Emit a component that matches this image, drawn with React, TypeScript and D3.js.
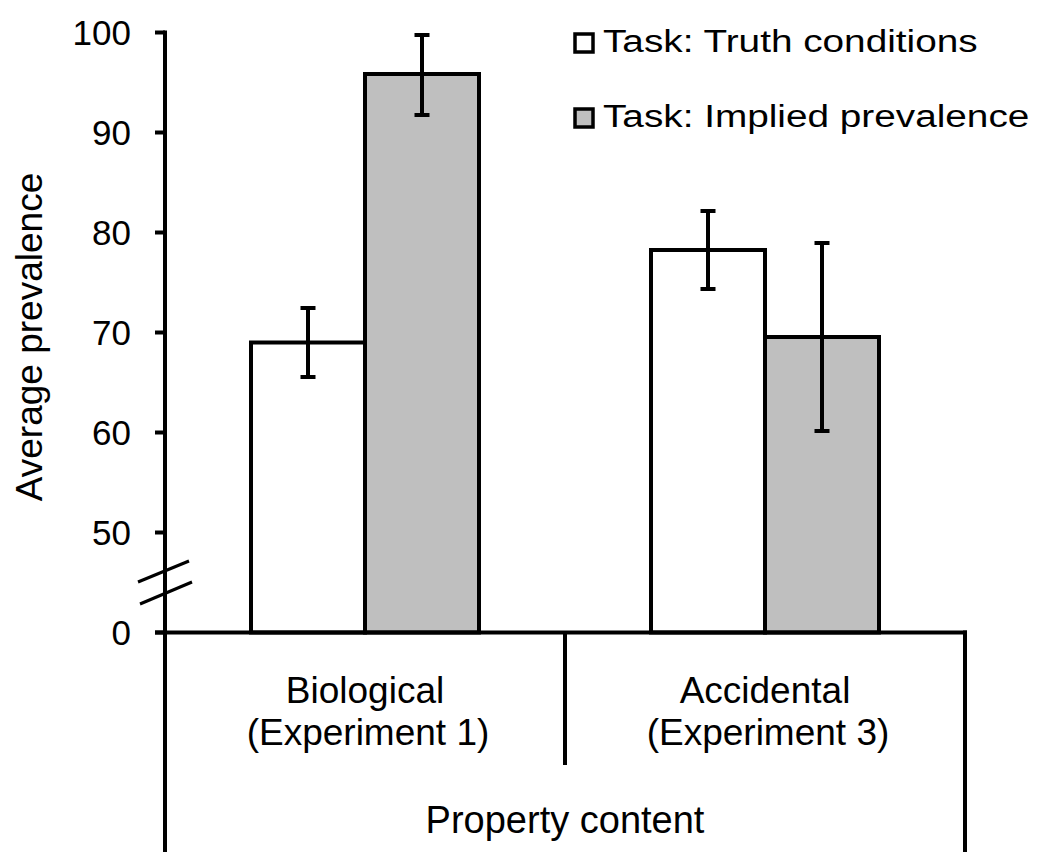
import React from "react";
import * as d3 from "d3";

const categories = ["Biological|(Experiment 1)", "Accidental|(Experiment 3)"];
const seriesNames = ["Task: Truth conditions", "Task: Implied prevalence"];
const seriesColors = ["#ffffff", "#bfbfbf"];
const truthValues = [69.0, 78.25];
const truthLow = [65.55, 74.35];
const truthHigh = [72.45, 82.15];
const impliedValues = [95.85, 69.55];
const impliedLow = [91.75, 60.15];
const impliedHigh = [99.75, 78.95];
const tickValues = [40, 50, 60, 70, 80, 90, 100];
const tickLabels = ["0", "50", "60", "70", "80", "90", "100"];
const yTitle = "Average prevalence";
const xTitle = "Property content";

const FONT = "'Liberation Sans', Arial, Helvetica, sans-serif";

export default function App() {
  const W = 1050, H = 863;
  const y = d3.scaleLinear().domain([40, 100]).range([632.5, 32.5]);
  const x0 = d3.scaleBand<string>().domain(categories).range([165, 965]).paddingInner(0).paddingOuter(0);
  const x1 = d3.scaleBand<string>().domain(seriesNames).range([0, 228]);
  const off = (x0.bandwidth() - 228) / 2;

  const series = [
    { name: seriesNames[0], vals: truthValues, lo: truthLow, hi: truthHigh, color: seriesColors[0] },
    { name: seriesNames[1], vals: impliedValues, lo: impliedLow, hi: impliedHigh, color: seriesColors[1] },
  ];
  const base = y(40);
  const sw = 4;

  return (
    <svg width={W} height={H} style={{ position: "absolute", left: 0, top: 0, background: "#fff" }}>
      <rect x={0} y={0} width={W} height={H} fill="#fff" />
      {/* bars */}
      {series.map((s, si) =>
        categories.map((c, ci) => {
          const bx = (x0(c) as number) + off + (x1(s.name) as number);
          const bw = x1.bandwidth();
          const top = y(s.vals[ci]);
          return (
            <rect key={`b${si}-${ci}`} x={bx} y={top} width={bw} height={base - top}
              fill={s.color} stroke="#000" strokeWidth={sw} strokeLinejoin="miter" />
          );
        })
      )}
      {/* error bars */}
      {series.map((s, si) =>
        categories.map((c, ci) => {
          const cx = (x0(c) as number) + off + (x1(s.name) as number) + x1.bandwidth() / 2;
          const yl = y(s.lo[ci]);
          const yh = y(s.hi[ci]);
          return (
            <g key={`e${si}-${ci}`} stroke="#000" strokeWidth={4}>
              <line x1={cx} x2={cx} y1={yl} y2={yh} />
              <line x1={cx - 7.5} x2={cx + 7.5} y1={yh} y2={yh} />
              <line x1={cx - 7.5} x2={cx + 7.5} y1={yl} y2={yl} />
            </g>
          );
        })
      )}
      {/* y axis */}
      <line x1={165} x2={165} y1={y(100) - 2} y2={852} stroke="#000" strokeWidth={sw} />
      {tickValues.map((t, i) => (
        <g key={`t${i}`}>
          <line x1={155} x2={165} y1={y(t)} y2={y(t)} stroke="#000" strokeWidth={sw} />
          <text x={131} y={y(t)} dy="0.36em" textAnchor="end" fontFamily={FONT} fontSize={35} fill="#000">
            {tickLabels[i]}
          </text>
        </g>
      ))}
      {/* axis break */}
      <g stroke="#000" strokeWidth={3}>
        <line x1={138} y1={582} x2={189} y2={561} />
        <line x1={140} y1={604} x2={192} y2={582} />
      </g>
      {/* x axis */}
      <line x1={155} x2={967} y1={base} y2={base} stroke="#000" strokeWidth={sw} />
      <line x1={565} x2={565} y1={base} y2={765} stroke="#000" strokeWidth={sw} />
      <line x1={965} x2={965} y1={base - 2} y2={852} stroke="#000" strokeWidth={sw} />
      {categories.map((c, ci) => {
        const cx = (x0(c) as number) + x0.bandwidth() / 2;
        const [l1, l2] = c.split("|");
        return (
          <g key={`c${ci}`} fontFamily={FONT} fontSize={37} fill="#000" textAnchor="middle">
            <text x={cx} y={703}>{l1}</text>
            <text x={cx + 3} y={745}>{l2}</text>
          </g>
        );
      })}
      <text x={565} y={833} textAnchor="middle" fontFamily={FONT} fontSize={38} fill="#000">{xTitle}</text>
      {/* y title */}
      <text transform={`translate(42,337) rotate(-90)`} textAnchor="middle" fontFamily={FONT} fontSize={37} fill="#000">
        {yTitle}
      </text>
      {/* legend */}
      {series.map((s, si) => {
        const ly = 34 + si * 75;
        return (
          <g key={`l${si}`}>
            <rect x={575} y={ly} width={18} height={18} fill={s.color} stroke="#000" strokeWidth={3.5} />
            <text transform={`translate(603,${ly + 18}) scale(1.25,1)`} x={0} y={0}
              fontFamily={FONT} fontSize={31} fill="#000">
              {s.name}
            </text>
          </g>
        );
      })}
    </svg>
  );
}
